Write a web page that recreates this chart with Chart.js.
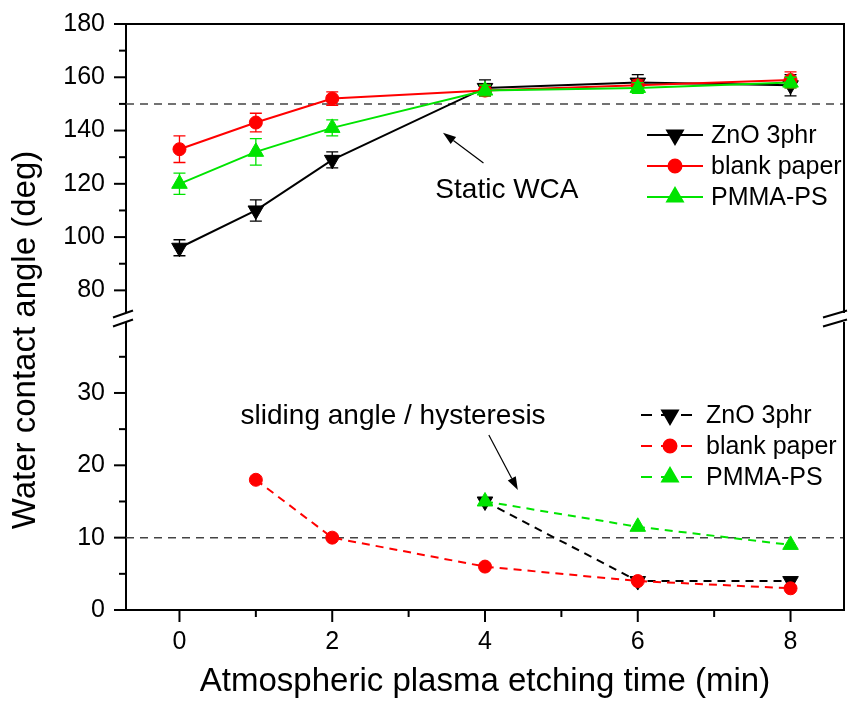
<!DOCTYPE html>
<html>
<head>
<meta charset="utf-8">
<script src="https://cdn.jsdelivr.net/npm/chart.js@4.4.1/dist/chart.umd.min.js"></script>
<style>
	html, body { margin: 0; padding: 0; background: #fff; }
	#wrap { width: 854px; height: 702px; }
</style>
</head>
<body>
<div id="wrap"><canvas id="wcaChart" width="854" height="702"></canvas></div>
<script>
// static water contact angle (deg)
const times = [0, 1, 2, 4, 6, 8];
const znoStatic = [96, 110, 129, 156, 158, 157];
const znoStaticErr = [3, 4, 3, 3, 3, 4];
const blankStatic = [133, 143, 152, 155, 157, 159];
const blankStaticErr = [5, 3.5, 2.5, 2, 2, 3];
const pmmaStatic = [120, 132, 141, 155, 156, 158];
const pmmaStaticErr = [4, 5, 3, 2, 2, 2];

// sliding angle / hysteresis (deg)
const znoSlideTimes = [4, 6, 8];
const znoSlide = [15, 4, 4];
const blankSlideTimes = [1, 2, 4, 6, 8];
const blankSlide = [18, 10, 6, 4, 3];
const pmmaSlideTimes = [4, 6, 8];
const pmmaSlide = [15, 11.5, 9];

// ticks
const xTicks = [0, 1, 2, 3, 4, 5, 6, 7, 8];
const xLabels = [0, 2, 4, 6, 8];
const topTicks = [80, 90, 100, 110, 120, 130, 140, 150, 160, 170, 180];
const topLabels = [80, 100, 120, 140, 160, 180];
const botTicks = [0, 5, 10, 15, 20, 25, 30, 35];
const botLabels = [0, 10, 20, 30];
const staticRef = 150;
const slideRef = 10;

const FONT = "'Liberation Sans', Arial, sans-serif";
const BLACK = '#000000';
const RED = '#ff0000';
const GREEN = '#00e400';

const toPts = (xs, ys) => xs.map((x, i) => ({ x: x, y: ys[i] }));

function series(label, xs, ys, color, axis, marker, dashed, errs, order) {
	return {
		label: label,
		data: toPts(xs, ys),
		yAxisID: axis,
		errors: errs,
		order: order,
		borderColor: color,
		backgroundColor: color,
		borderWidth: 2,
		borderDash: dashed ? [8, 6] : [],
		pointStyle: marker === 'circle' ? 'circle' : 'triangle',
		pointRotation: marker === 'down' ? 180 : 0,
		pointRadius: marker === 'circle' ? 6.5 : 9,
		pointBorderWidth: 1,
		pointBorderColor: color,
		pointBackgroundColor: color,
		tension: 0,
	};
}

const datasets = [
	series('ZnO 3phr', times, znoStatic, BLACK, 'yTop', 'down', false, znoStaticErr, 2),
	series('blank paper', times, blankStatic, RED, 'yTop', 'circle', false, blankStaticErr, 1),
	series('PMMA-PS', times, pmmaStatic, GREEN, 'yTop', 'up', false, pmmaStaticErr, 0),
	series('ZnO 3phr', znoSlideTimes, znoSlide, BLACK, 'yBot', 'down', true, null, 2),
	series('blank paper', blankSlideTimes, blankSlide, RED, 'yBot', 'circle', true, null, 1),
	series('PMMA-PS', pmmaSlideTimes, pmmaSlide, GREEN, 'yBot', 'up', true, null, 0),
];

function drawArrow(ctx, x0, y0, x1, y1) {
	const ang = Math.atan2(y1 - y0, x1 - x0);
	const len = 13, half = 4.5;
	const bx = x1 - Math.cos(ang) * len, by = y1 - Math.sin(ang) * len;
	ctx.beginPath();
	ctx.moveTo(x0, y0);
	ctx.lineTo(bx, by);
	ctx.stroke();
	ctx.beginPath();
	ctx.moveTo(x1, y1);
	ctx.lineTo(bx - Math.sin(ang) * half, by + Math.cos(ang) * half);
	ctx.lineTo(bx + Math.sin(ang) * half, by - Math.cos(ang) * half);
	ctx.closePath();
	ctx.fill();
}

function drawBreak(ctx, x, c, left, right) {
	ctx.fillStyle = '#fff';
	ctx.fillRect(x - 3, c - 4, 6, 9);
	ctx.strokeStyle = BLACK;
	ctx.lineWidth = 2;
	ctx.beginPath();
	ctx.moveTo(x - left, c + 0.5);
	ctx.lineTo(x + right, c - 6.5);
	ctx.moveTo(x - left, c + 9.5);
	ctx.lineTo(x + right, c + 2.5);
	ctx.stroke();
}

// legend sample: line + marker taken from the dataset itself
function drawLegend(ctx, items, x0, x1, xText, y0, gap) {
	items.forEach((ds, i) => {
		const y = y0 + i * gap;
		ctx.save();
		ctx.strokeStyle = ds.borderColor;
		ctx.fillStyle = ds.borderColor;
		ctx.lineWidth = 2;
		ctx.setLineDash(ds.borderDash.length ? [11, 9] : []);
		ctx.beginPath();
		ctx.moveTo(x0, y);
		ctx.lineTo(x1, y);
		ctx.stroke();
		ctx.setLineDash([]);
		Chart.helpers.drawPoint(ctx, {
			pointStyle: ds.pointStyle,
			rotation: ds.pointRotation,
			radius: ds.pointRadius,
			borderWidth: 1,
		}, (x0 + x1) / 2, y);
		ctx.fillStyle = BLACK;
		ctx.font = '25px ' + FONT;
		ctx.textAlign = 'left';
		ctx.textBaseline = 'middle';
		ctx.fillText(ds.label, xText, y + 1);
		ctx.restore();
	});
}

const decorPlugin = {
	id: 'decor',
	beforeDatasetsDraw(chart) {
		const { ctx, chartArea, scales } = chart;
		ctx.save();
		ctx.strokeStyle = '#444';
		ctx.lineWidth = 1.5;
		ctx.setLineDash([8, 6]);
		[[scales.yTop, staticRef], [scales.yBot, slideRef]].forEach(([s, v]) => {
			const y = s.getPixelForValue(v);
			ctx.beginPath();
			ctx.moveTo(chartArea.left, y);
			ctx.lineTo(chartArea.right, y);
			ctx.stroke();
		});
		ctx.restore();
	},
	beforeDatasetDraw(chart, args) {
		const ds = chart.data.datasets[args.index];
		if (!ds.errors) return;
		const { ctx, scales } = chart;
		const ys = scales[ds.yAxisID];
		ctx.save();
		ctx.strokeStyle = ds.borderColor;
		ctx.lineWidth = 1.3;
		ds.data.forEach((p, i) => {
			const px = scales.x.getPixelForValue(p.x);
			const hi = ys.getPixelForValue(p.y + ds.errors[i]);
			const lo = ys.getPixelForValue(p.y - ds.errors[i]);
			ctx.beginPath();
			ctx.moveTo(px, hi);
			ctx.lineTo(px, lo);
			ctx.moveTo(px - 6, hi);
			ctx.lineTo(px + 6, hi);
			ctx.moveTo(px - 6, lo);
			ctx.lineTo(px + 6, lo);
			ctx.stroke();
		});
		ctx.restore();
	},
	afterDraw(chart) {
		const { ctx, chartArea, scales } = chart;
		const { x, yTop, yBot } = scales;
		ctx.save();
		ctx.strokeStyle = BLACK;
		ctx.lineWidth = 2;
		// frame top and right
		ctx.beginPath();
		ctx.moveTo(chartArea.left, chartArea.top);
		ctx.lineTo(chartArea.right, chartArea.top);
		ctx.lineTo(chartArea.right, chartArea.bottom);
		ctx.stroke();
		// tick marks, long for labelled ticks
		xTicks.forEach((v) => {
			const px = x.getPixelForValue(v);
			const len = xLabels.includes(v) ? 12 : 7;
			ctx.beginPath();
			ctx.moveTo(px, chartArea.bottom);
			ctx.lineTo(px, chartArea.bottom + len);
			ctx.stroke();
		});
		[[yTop, topTicks, topLabels], [yBot, botTicks, botLabels]].forEach(([s, ticks, labels]) => {
			ticks.forEach((v) => {
				const py = s.getPixelForValue(v);
				const len = labels.includes(v) ? 12 : 7;
				ctx.beginPath();
				ctx.moveTo(chartArea.left, py);
				ctx.lineTo(chartArea.left - len, py);
				ctx.stroke();
			});
		});
		// axis breaks
		const c = Math.min(yTop.bottom, yBot.bottom);
		drawBreak(ctx, chartArea.left, c, 13, 7);
		drawBreak(ctx, chartArea.right, c, 21, 3);

		// annotations
		ctx.fillStyle = BLACK;
		ctx.strokeStyle = BLACK;
		ctx.lineWidth = 1.2;
		drawArrow(ctx, x.getPixelForValue(3.98), yTop.getPixelForValue(127.8),
			x.getPixelForValue(3.45), yTop.getPixelForValue(139.2));
		drawArrow(ctx, x.getPixelForValue(4.05), yBot.getPixelForValue(24.2),
			x.getPixelForValue(4.43), yBot.getPixelForValue(16.6));
		ctx.font = '28px ' + FONT;
		ctx.textAlign = 'left';
		ctx.textBaseline = 'alphabetic';
		ctx.fillText('Static WCA', x.getPixelForValue(3.35), yTop.getPixelForValue(114.7));
		ctx.fillText('sliding angle / hysteresis', x.getPixelForValue(0.8), yBot.getPixelForValue(25.7));

		// legends
		const ds = chart.data.datasets;
		drawLegend(ctx, ds.slice(0, 3), 647, 703, 711, 135, 31);
		drawLegend(ctx, ds.slice(3, 6), 641, 699, 706, 415, 31);

		// y title spanning both segments
		ctx.translate(35, 340);
		ctx.rotate(-Math.PI / 2);
		ctx.font = '33px ' + FONT;
		ctx.textAlign = 'center';
		ctx.textBaseline = 'alphabetic';
		ctx.fillStyle = BLACK;
		ctx.fillText('Water contact angle (deg)', 0, 0);
		ctx.restore();
	},
};

const yScale = (ticks, labels, min, max) => ({
	type: 'linear',
	position: 'left',
	stack: 'wca',
	stackWeight: 1,
	min: min,
	max: max,
	afterBuildTicks: (s) => { s.ticks = ticks.map((v) => ({ value: v })); },
	afterFit: (s) => {
		s.width = 126;
		s.paddingTop = 0;
		s.paddingBottom = 0;
	},
	grid: { display: false, drawTicks: false },
	border: { display: true, color: BLACK, width: 2 },
	ticks: {
		padding: 21,
		color: BLACK,
		font: { family: FONT, size: 25 },
		callback: (v) => (labels.includes(v) ? String(v) : ''),
	},
});

const ctx = document.getElementById('wcaChart');
const wcaChart = new Chart(ctx, {
	type: 'line',
	data: { datasets: datasets },
	plugins: [decorPlugin],
	options: {
		responsive: false,
		animation: false,
		layout: { padding: { top: 24, right: 1, left: 0, bottom: 0 } },
		plugins: {
			legend: { display: false },
			tooltip: { enabled: false },
		},
		scales: {
			x: {
				type: 'linear',
				min: -0.7,
				max: 8.7,
				afterBuildTicks: (s) => { s.ticks = xTicks.map((v) => ({ value: v })); },
				afterFit: (s) => { s.height = 92; },
				grid: { display: false, drawTicks: false },
				border: { display: true, color: BLACK, width: 2 },
				ticks: {
					padding: 17,
					color: BLACK,
					font: { family: FONT, size: 25 },
					callback: (v) => (xLabels.includes(v) ? String(v) : ''),
				},
				title: {
					display: true,
					text: 'Atmospheric plasma etching time (min)',
					color: BLACK,
					font: { family: FONT, size: 33 },
					padding: { top: 0, bottom: 0 },
				},
			},
			yBot: yScale(botTicks, botLabels, 0, 40.5),
			yTop: yScale(topTicks, topLabels, 70, 180),
		},
	},
});
</script>
</body>
</html>
